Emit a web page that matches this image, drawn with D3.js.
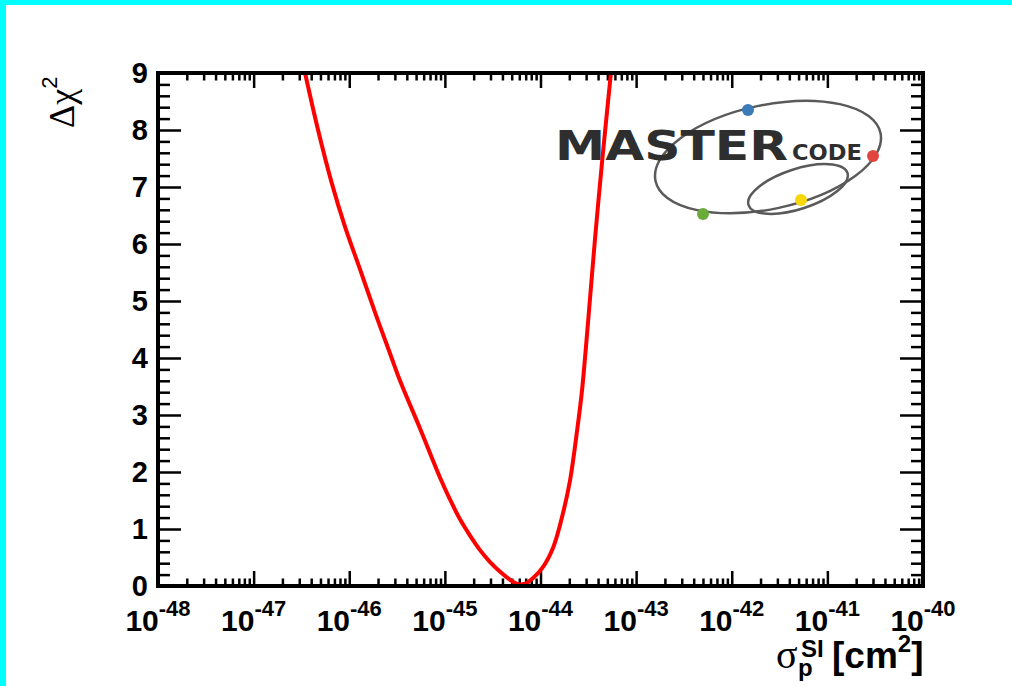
<!DOCTYPE html>
<html><head><meta charset="utf-8">
<script src="https://cdn.jsdelivr.net/npm/d3@7"></script>
<style>body{margin:0;background:#fff}svg{display:block}</style>
</head><body>
<svg id="c" width="1012" height="686"></svg>
<script>
// ---- data ----
const sigmaSI = [3.45e-47,4.72e-47,6.61e-47,9.04e-47,1.30e-46,1.86e-46,2.67e-46,3.40e-46,5.51e-46,8.91e-46,1.13e-45,1.44e-45,1.84e-45,2.33e-45,2.97e-45,3.78e-45,4.81e-45,5.83e-45,6.90e-45,8.38e-45,1.06e-44,1.36e-44,1.72e-44,2.04e-44,2.42e-44,2.72e-44,3.15e-44,3.72e-44,4.41e-44,5.45e-44];
const deltaChi2 = [9.0,8.0,7.05,6.3,5.55,4.8,4.08,3.6,2.76,1.90,1.52,1.17,0.88,0.63,0.42,0.25,0.11,0.03,0.04,0.14,0.33,0.68,1.28,1.86,2.74,3.44,4.65,6.1,7.45,9.0];
const xTickExponents = [-48,-47,-46,-45,-44,-43,-42,-41,-40];
const yTickValues = [0,1,2,3,4,5,6,7,8,9];
const xDomain = [1e-48, 1e-40];
const yDomain = [0, 9];

// ---- layout ----
const svg = d3.select("#c");
const L = 158, R = 923, T = 73, B = 586;
const x = d3.scaleLog().domain(xDomain).range([L, R]);
const y = d3.scaleLinear().domain(yDomain).range([B, T]);
const SANS = "'Liberation Sans', Arial, Helvetica, sans-serif";
const SERIF = "'Liberation Serif', 'Times New Roman', serif";

// canvas frame (cyan)
svg.append("rect").attr("x",0).attr("y",0).attr("width",6).attr("height",686).attr("fill","#00ffff");
svg.append("rect").attr("x",0).attr("y",0).attr("width",1012).attr("height",5).attr("fill","#00ffff");

// ---- logo ----
const logo = svg.append("g");
logo.append("ellipse").attr("cx",768).attr("cy",157).attr("rx",115).attr("ry",52)
  .attr("transform","rotate(-12,768,157)").attr("fill","none").attr("stroke","#5a5a5a").attr("stroke-width",2.5);
logo.append("ellipse").attr("cx",798).attr("cy",189).attr("rx",52).attr("ry",20)
  .attr("transform","rotate(-18,798,189)").attr("fill","none").attr("stroke","#5a5a5a").attr("stroke-width",2.5);
logo.append("text").attr("x",555).attr("y",160).attr("font-family","'DejaVu Sans', sans-serif").attr("font-weight","bold")
  .attr("font-size",40).attr("fill","#2e2e2e").attr("textLength",233).attr("lengthAdjust","spacingAndGlyphs").text("MASTER");
logo.append("text").attr("x",792).attr("y",160).attr("font-family","'DejaVu Sans', sans-serif").attr("font-weight","bold")
  .attr("font-size",21).attr("fill","#2e2e2e").attr("textLength",70).attr("lengthAdjust","spacingAndGlyphs").text("CODE");
[[748,110,"#3b7bb8"],[873,156,"#e0453f"],[703,214,"#6aab3c"],[801,200,"#f7d708"]].forEach(d=>{
  logo.append("circle").attr("cx",d[0]).attr("cy",d[1]).attr("r",6).attr("fill",d[2]);
});

// ---- ticks ----
const allX = x.ticks();
const majorX = xTickExponents.map(e => Math.pow(10, e));
const isMajor = v => majorX.some(m => Math.abs(Math.log10(v) - Math.log10(m)) < 1e-6);
const minorX = allX.filter(v => !isMajor(v));
const minorY = d3.range(0, 9.0001, 0.2).filter(v => Math.abs(v - Math.round(v)) > 1e-6);

function styleAxis(g){
  g.select(".domain").remove();
  g.selectAll("line").attr("stroke","#000").attr("stroke-width",2.5);
  g.selectAll("text").remove();
}
svg.append("g").attr("transform",`translate(0,${B})`).call(d3.axisBottom(x).tickValues(majorX).tickSize(-15).tickFormat("")).call(styleAxis);
svg.append("g").attr("transform",`translate(0,${B})`).call(d3.axisBottom(x).tickValues(minorX).tickSize(-7.5).tickFormat("")).call(styleAxis);
svg.append("g").attr("transform",`translate(0,${T})`).call(d3.axisTop(x).tickValues(majorX).tickSize(-15).tickFormat("")).call(styleAxis);
svg.append("g").attr("transform",`translate(0,${T})`).call(d3.axisTop(x).tickValues(minorX).tickSize(-7.5).tickFormat("")).call(styleAxis);
svg.append("g").attr("transform",`translate(${L},0)`).call(d3.axisLeft(y).tickValues(yTickValues).tickSize(-23).tickFormat("")).call(styleAxis);
svg.append("g").attr("transform",`translate(${L},0)`).call(d3.axisLeft(y).tickValues(minorY).tickSize(-12).tickFormat("")).call(styleAxis);
svg.append("g").attr("transform",`translate(${R},0)`).call(d3.axisRight(y).tickValues(yTickValues).tickSize(-23).tickFormat("")).call(styleAxis);
svg.append("g").attr("transform",`translate(${R},0)`).call(d3.axisRight(y).tickValues(minorY).tickSize(-12).tickFormat("")).call(styleAxis);

// ---- curve ----
svg.append("clipPath").attr("id","clip").append("rect").attr("x",L).attr("y",T).attr("width",R-L).attr("height",B-T);
const pts = sigmaSI.map((s,i)=>({s, v: deltaChi2[i]}));
svg.append("path").datum(pts).attr("clip-path","url(#clip)")
  .attr("d", d3.line().x(d=>x(d.s)).y(d=>y(d.v)).curve(d3.curveCatmullRom.alpha(0.5)))
  .attr("fill","none").attr("stroke","#ff0000").attr("stroke-width",4).attr("stroke-linejoin","round");

// ---- frame ----
svg.append("rect").attr("x",L).attr("y",T).attr("width",R-L).attr("height",B-T)
  .attr("fill","none").attr("stroke","#000").attr("stroke-width",4);

// ---- tick labels ----
yTickValues.forEach(v=>{
  svg.append("text").attr("x",148).attr("y",y(v)).attr("dy","0.36em").attr("text-anchor","end")
    .attr("font-family",SANS).attr("font-weight","bold").attr("font-size",29).text(v);
});
xTickExponents.forEach(e=>{
  const t = svg.append("text").attr("x",x(Math.pow(10,e))).attr("y",631).attr("text-anchor","middle")
    .attr("font-family",SANS).attr("font-weight","bold").attr("font-size",30);
  t.append("tspan").text("10");
  t.append("tspan").attr("font-size",22).attr("dy",-15).text(String(e));
});

// ---- axis titles ----
const xt = svg.append("text").attr("font-family",SANS).attr("font-weight","bold").attr("font-size",37).attr("y",668);
xt.append("tspan").attr("x",776).attr("font-family",SERIF).attr("font-weight","normal").attr("font-size",40).text("σ");
xt.append("tspan").attr("x",798).attr("y",676).attr("font-size",24).text("p");
xt.append("tspan").attr("x",801).attr("y",657).attr("font-size",24).text("SI");
xt.append("tspan").attr("x",832).attr("y",668).text("[cm");
xt.append("tspan").attr("dy",-16).attr("font-size",24).text("2");
xt.append("tspan").attr("dy",16).text("]");

const yt = svg.append("text").attr("transform","translate(74,128) rotate(-90)").attr("font-family",SERIF).attr("font-size",36);
yt.append("tspan").text("Δχ");
yt.append("tspan").attr("font-family",SANS).attr("font-size",22).attr("dy",-17).text("2");
</script>
</body></html>
